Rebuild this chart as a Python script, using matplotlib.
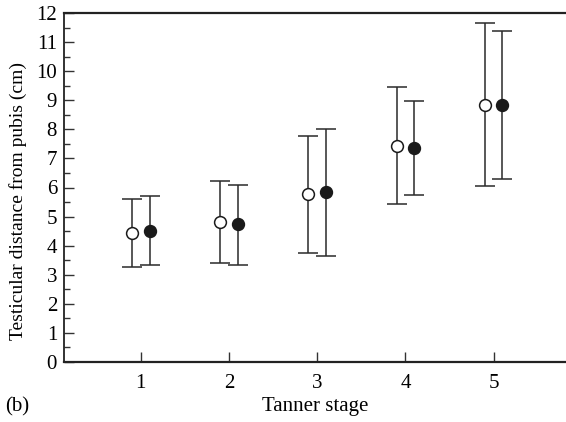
import matplotlib
matplotlib.use("Agg")
import matplotlib.pyplot as plt
from matplotlib.ticker import MultipleLocator
import numpy as np

plt.rcParams['font.family'] = ['Liberation Serif', 'DejaVu Serif']

stages = [1, 2, 3, 4, 5]
open_mean = [4.45, 4.83, 5.78, 7.44, 8.84]
open_low = [3.26, 3.39, 3.74, 5.42, 6.05]
open_high = [5.61, 6.22, 7.78, 9.45, 11.65]
filled_mean = [4.52, 4.73, 5.86, 7.35, 8.84]
filled_low = [3.34, 3.34, 3.66, 5.73, 6.29]
filled_high = [5.72, 6.09, 8.00, 8.99, 11.39]

fig = plt.figure(figsize=(5.66, 4.22), dpi=100)
ax = fig.add_axes([64/566, 60/422, 1 - 64/566, (362-13)/422])

x = np.array(stages, dtype=float)
offset = 0.1

def draw(xs, mean, low, high, face):
    mean = np.array(mean); low = np.array(low); high = np.array(high)
    yerr = [mean - low, high - mean]
    ax.errorbar(xs, mean, yerr=yerr, fmt='o', color='#1a1a1a', ecolor='#2a2a2a',
                elinewidth=1.1, capsize=7, capthick=1.1,
                markersize=8.5, markerfacecolor=face, markeredgecolor='#1a1a1a',
                markeredgewidth=1.1, zorder=3)

draw(x - offset, open_mean, open_low, open_high, 'white')
draw(x + offset, filled_mean, filled_low, filled_high, '#1a1a1a')

fs = 15
ax.set_xlim(0.13, 5.82)
ax.set_ylim(0, 12)
ax.set_xticks(stages)
ax.yaxis.set_major_locator(MultipleLocator(1))
ax.yaxis.set_minor_locator(MultipleLocator(0.5))
ax.tick_params(axis='both', which='major', direction='in', length=7, width=1,
               labelsize=fs, color='#333333')
ax.tick_params(axis='y', which='minor', direction='in', length=4.5, width=1, color='#333333')
ax.tick_params(axis='x', pad=9)
ax.tick_params(axis='y', pad=5)

for s in ['top', 'bottom']:
    ax.spines[s].set_linewidth(1.6)
    ax.spines[s].set_color('#222222')
ax.spines['left'].set_linewidth(1.3)
ax.spines['left'].set_color('#222222')
ax.spines['right'].set_visible(False)

ax.set_ylabel('Testicular distance from pubis (cm)', fontsize=14, va='center')
ax.yaxis.set_label_coords((18 - 64) / 502, (362 - 201) / 349)
ax.set_xlabel('Tanner stage', fontsize=fs, va='center')
ax.xaxis.set_label_coords(0.5, (362 - 407) / 349)
fig.text(5/566, 1 - 407/422, '(b)', fontsize=fs, va='center', ha='left')

fig.savefig('out.png', dpi=100)
